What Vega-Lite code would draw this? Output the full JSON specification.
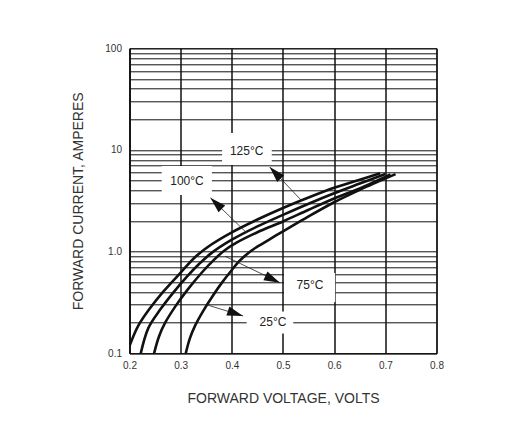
{
  "$schema": "https://vega.github.io/schema/vega-lite/v6.json",
  "width": 307,
  "height": 305,
  "autosize": {"type": "none"},
  "padding": {"left": 129.5, "top": 48.3, "right": 93.5, "bottom": 84.7},
  "background": "white",
  "config": {
    "view": {"stroke": "#111", "strokeWidth": 1},
    "font": "Liberation Sans",
    "axis": {
      "labelFont": "Liberation Sans",
      "titleFont": "Liberation Sans",
      "labelColor": "#333",
      "titleColor": "#333",
      "titleFontWeight": "normal",
      "labelFontSize": 10,
      "titleFontSize": 14,
      "ticks": false,
      "gridColor": "#111",
      "gridOpacity": 1,
      "domainColor": "#111"
    }
  },
  "datasets": {
    "curves": [
      {"temp": "125°C", "v": 0.2, "i": 0.118},
      {"temp": "125°C", "v": 0.217, "i": 0.186},
      {"temp": "125°C", "v": 0.24, "i": 0.277},
      {"temp": "125°C", "v": 0.266, "i": 0.404},
      {"temp": "125°C", "v": 0.3, "i": 0.622},
      {"temp": "125°C", "v": 0.33, "i": 0.9},
      {"temp": "125°C", "v": 0.36, "i": 1.175},
      {"temp": "125°C", "v": 0.4, "i": 1.55},
      {"temp": "125°C", "v": 0.45, "i": 2.07},
      {"temp": "125°C", "v": 0.5, "i": 2.69},
      {"temp": "125°C", "v": 0.55, "i": 3.41},
      {"temp": "125°C", "v": 0.6, "i": 4.25},
      {"temp": "125°C", "v": 0.65, "i": 5.1},
      {"temp": "125°C", "v": 0.69, "i": 5.9},
      {"temp": "100°C", "v": 0.222, "i": 0.1},
      {"temp": "100°C", "v": 0.237, "i": 0.178},
      {"temp": "100°C", "v": 0.26, "i": 0.269},
      {"temp": "100°C", "v": 0.286, "i": 0.398},
      {"temp": "100°C", "v": 0.314, "i": 0.581},
      {"temp": "100°C", "v": 0.335, "i": 0.748},
      {"temp": "100°C", "v": 0.36, "i": 0.967},
      {"temp": "100°C", "v": 0.4, "i": 1.31},
      {"temp": "100°C", "v": 0.45, "i": 1.77},
      {"temp": "100°C", "v": 0.5, "i": 2.3},
      {"temp": "100°C", "v": 0.55, "i": 2.96},
      {"temp": "100°C", "v": 0.6, "i": 3.75},
      {"temp": "100°C", "v": 0.65, "i": 4.67},
      {"temp": "100°C", "v": 0.7, "i": 5.8},
      {"temp": "75°C", "v": 0.248, "i": 0.1},
      {"temp": "75°C", "v": 0.258, "i": 0.148},
      {"temp": "75°C", "v": 0.27, "i": 0.201},
      {"temp": "75°C", "v": 0.29, "i": 0.291},
      {"temp": "75°C", "v": 0.314, "i": 0.425},
      {"temp": "75°C", "v": 0.341, "i": 0.62},
      {"temp": "75°C", "v": 0.365, "i": 0.83},
      {"temp": "75°C", "v": 0.385, "i": 1.02},
      {"temp": "75°C", "v": 0.41, "i": 1.23},
      {"temp": "75°C", "v": 0.45, "i": 1.55},
      {"temp": "75°C", "v": 0.5, "i": 1.98},
      {"temp": "75°C", "v": 0.55, "i": 2.58},
      {"temp": "75°C", "v": 0.6, "i": 3.33},
      {"temp": "75°C", "v": 0.65, "i": 4.19},
      {"temp": "75°C", "v": 0.71, "i": 5.75},
      {"temp": "25°C", "v": 0.31, "i": 0.1},
      {"temp": "25°C", "v": 0.318, "i": 0.14},
      {"temp": "25°C", "v": 0.328, "i": 0.186},
      {"temp": "25°C", "v": 0.345, "i": 0.266},
      {"temp": "25°C", "v": 0.36, "i": 0.35},
      {"temp": "25°C", "v": 0.38, "i": 0.49},
      {"temp": "25°C", "v": 0.4, "i": 0.66},
      {"temp": "25°C", "v": 0.415, "i": 0.81},
      {"temp": "25°C", "v": 0.43, "i": 0.95},
      {"temp": "25°C", "v": 0.445, "i": 1.08},
      {"temp": "25°C", "v": 0.46, "i": 1.2},
      {"temp": "25°C", "v": 0.48, "i": 1.38},
      {"temp": "25°C", "v": 0.5, "i": 1.58},
      {"temp": "25°C", "v": 0.55, "i": 2.22},
      {"temp": "25°C", "v": 0.6, "i": 3.06},
      {"temp": "25°C", "v": 0.65, "i": 4.05},
      {"temp": "25°C", "v": 0.72, "i": 5.78}
    ],
    "labels": [
      {"label": "125°C", "v": 0.429, "i": 9.8, "bx1": 0.381, "bx2": 0.478, "by1": 7.1, "by2": 14.7, "tailV": 0.537, "tailI": 3.15, "tipV": 0.474, "tipI": 6.8},
      {"label": "100°C", "v": 0.3124, "i": 4.96, "bx1": 0.263, "bx2": 0.361, "by1": 3.6, "by2": 6.95, "tailV": 0.429, "tailI": 1.53, "tipV": 0.358, "tipI": 3.39},
      {"label": "75°C", "v": 0.5527, "i": 0.47, "bx1": 0.502, "bx2": 0.602, "by1": 0.32, "by2": 0.617, "tailV": 0.387, "tailI": 0.9, "tipV": 0.494, "tipI": 0.495},
      {"label": "25°C", "v": 0.4804, "i": 0.205, "bx1": 0.429, "bx2": 0.52, "by1": 0.157, "by2": 0.257, "tailV": 0.351, "tailI": 0.3, "tipV": 0.422, "tipI": 0.233}
    ]
  },
  "layer": [
    {
      "data": {"name": "labels"},
      "mark": {"type": "rect", "fill": "white", "stroke": null},
      "encoding": {
        "x": {"field": "bx1", "type": "quantitative", "scale": {"domain": [0.2, 0.8], "nice": false, "zero": false},
          "axis": {"title": "FORWARD VOLTAGE, VOLTS", "values": [0.2, 0.3, 0.4, 0.5, 0.6, 0.7, 0.8], "format": ".1f", "grid": true, "gridWidth": 1.5, "domainWidth": 1, "labelPadding": 7, "titlePadding": 21, "labelFlush": false}},
        "x2": {"field": "bx2"},
        "y": {"field": "by1", "type": "quantitative", "scale": {"type": "log", "domain": [0.1, 100], "nice": false},
          "axis": {"title": "FORWARD CURRENT, AMPERES", "values": [0.1, 0.2, 0.3, 0.4, 0.5, 0.6, 0.7, 0.8, 0.9, 1, 2, 3, 4, 5, 6, 7, 8, 9, 10, 20, 30, 40, 50, 60, 70, 80, 90, 100],
            "labelExpr": "datum.value == 100 ? '100' : datum.value == 10 ? '10' : datum.value == 1 ? '1.0' : datum.value == 0.1 ? '0.1' : ''",
            "labelOverlap": false, "labelFlush": false, "grid": true, "gridWidth": 1, "domainWidth": 1.5, "labelPadding": 8, "titlePadding": 19}},
        "y2": {"field": "by2"}
      }
    },
    {
      "data": {"name": "curves"},
      "mark": {"type": "line", "interpolate": "catmull-rom", "color": "#111", "strokeWidth": 2.6, "clip": true},
      "encoding": {
        "x": {"field": "v", "type": "quantitative"},
        "y": {"field": "i", "type": "quantitative"},
        "detail": {"field": "temp"}
      }
    },
    {
      "data": {"name": "labels"},
      "mark": {"type": "rule", "color": "#222", "strokeWidth": 0.8},
      "encoding": {
        "x": {"field": "tailV", "type": "quantitative"},
        "y": {"field": "tailI", "type": "quantitative"},
        "x2": {"field": "tipV"},
        "y2": {"field": "tipI"}
      }
    },
    {
      "data": {"name": "labels"},
      "transform": [{"filter": "datum.label == '125°C'"}],
      "mark": {"type": "point", "shape": "M0,0L0.6,2L-0.6,2Z", "filled": true, "color": "#111", "opacity": 1, "size": 256, "angle": 316.6},
      "encoding": {
        "x": {"field": "tipV", "type": "quantitative"},
        "y": {"field": "tipI", "type": "quantitative"}
      }
    },
    {
      "data": {"name": "labels"},
      "transform": [{"filter": "datum.label == '100°C'"}],
      "mark": {"type": "point", "shape": "M0,0L0.6,2L-0.6,2Z", "filled": true, "color": "#111", "opacity": 1, "size": 256, "angle": 314},
      "encoding": {
        "x": {"field": "tipV", "type": "quantitative"},
        "y": {"field": "tipI", "type": "quantitative"}
      }
    },
    {
      "data": {"name": "labels"},
      "transform": [{"filter": "datum.label == '75°C'"}],
      "mark": {"type": "point", "shape": "M0,0L0.6,2L-0.6,2Z", "filled": true, "color": "#111", "opacity": 1, "size": 256, "angle": 114.9},
      "encoding": {
        "x": {"field": "tipV", "type": "quantitative"},
        "y": {"field": "tipI", "type": "quantitative"}
      }
    },
    {
      "data": {"name": "labels"},
      "transform": [{"filter": "datum.label == '25°C'"}],
      "mark": {"type": "point", "shape": "M0,0L0.6,2L-0.6,2Z", "filled": true, "color": "#111", "opacity": 1, "size": 256, "angle": 108.2},
      "encoding": {
        "x": {"field": "tipV", "type": "quantitative"},
        "y": {"field": "tipI", "type": "quantitative"}
      }
    },
    {
      "data": {"name": "labels"},
      "mark": {"type": "text", "font": "Liberation Sans", "fontSize": 12, "color": "#222", "align": "center", "baseline": "middle"},
      "encoding": {
        "x": {"field": "v", "type": "quantitative"},
        "y": {"field": "i", "type": "quantitative"},
        "text": {"field": "label"}
      }
    }
  ]
}
